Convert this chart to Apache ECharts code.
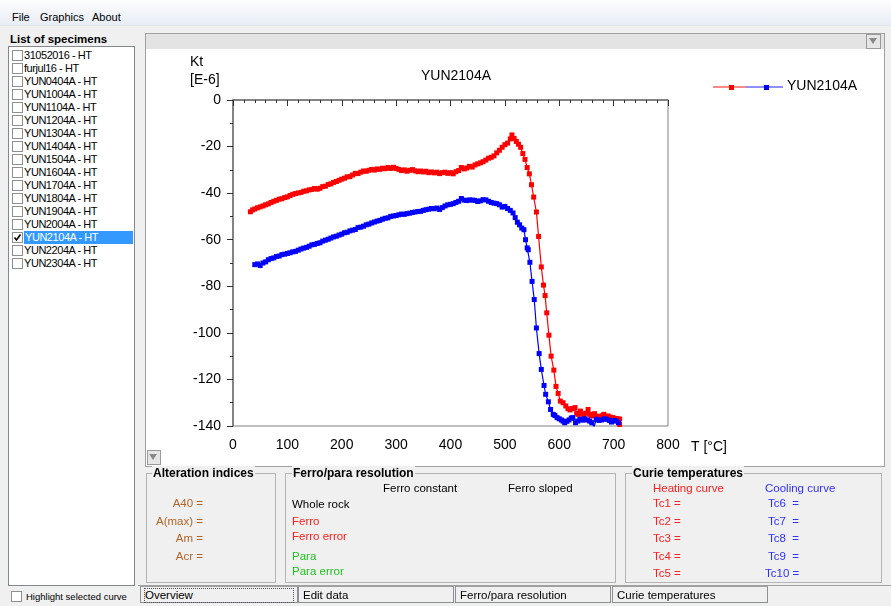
<!DOCTYPE html>
<html>
<head>
<meta charset="utf-8">
<script src="https://cdn.jsdelivr.net/npm/echarts@6/dist/echarts.min.js"></script>
<style>
  body { margin:0; width:891px; height:606px; background:#f0f0f0; position:relative; overflow:hidden;
         font-family:"Liberation Sans", Arial, sans-serif; }
  .a { position:absolute; white-space:nowrap; }
  .menu { left:0; top:0; width:891px; height:25px; background:linear-gradient(#fdfdfe,#e8edf5); border-bottom:1px solid #dfe3ea; }
  .mi { top:10px; font-size:11px; line-height:14px; color:#000; }
  .cb { width:9px; height:9px; border:1px solid #8e8f8f; background:#fff; }
  .li { left:24px; font-size:11px; line-height:13px; height:13px; letter-spacing:-0.45px; color:#000; }
  .grp { border:1px solid #b4b4b4; }
  .gt { font-size:12px; font-weight:bold; line-height:14px; background:#f0f0f0; padding:0 1px; }
  .t { font-size:11.5px; line-height:14px; }
  .tab { top:586px; height:17px; border:1px solid #8c8f95; border-top-color:#a0a0a0; background:#f0f0f0; font-size:11.5px; line-height:17px; padding-left:4px; box-sizing:border-box; }
</style>
</head>
<body>
<div class="a menu"></div>
<div class="a mi" style="left:12px">File</div>
<div class="a mi" style="left:40px">Graphics</div>
<div class="a mi" style="left:92px">About</div>

<div class="a" style="left:10px;top:32px;font-size:11.5px;font-weight:bold;line-height:14px;">List of specimens</div>
<div class="a" id="list" style="left:8px;top:46px;width:125px;height:538px;background:#fff;border:1px solid #828790;"></div>

<div class="a cb" style="left:11px;top:591px;"></div>
<div class="a" style="left:26px;top:591px;font-size:9.5px;line-height:11px;">Highlight selected curve</div>

<!-- chart panel -->
<div class="a" style="left:145px;top:33px;width:738px;height:432px;border:1px solid #a0a0a0;background:#fff;"></div>
<div class="a" style="left:146px;top:34px;width:738px;height:15px;background:#e3e3e3;"></div>
<div class="a" style="left:866px;top:34px;width:13px;height:13px;border:1px solid #9a9a9a;background:#e6e6e6;"></div>
<div class="a" style="left:869px;top:38px;width:0;height:0;border-left:4px solid transparent;border-right:4px solid transparent;border-top:6px solid #8a8a8a;"></div>
<div class="a" id="chart" style="left:147px;top:49px;width:736px;height:416px;"></div>
<div class="a" style="left:147px;top:450px;width:12px;height:13px;border:1px solid #9a9a9a;background:#e6e6e6;"></div>
<div class="a" style="left:149px;top:454px;width:0;height:0;border-left:4px solid transparent;border-right:4px solid transparent;border-top:6px solid #8a8a8a;"></div>

<!-- group boxes -->
<div class="a grp" style="left:146px;top:473px;width:128px;height:108px;"></div>
<div class="a gt" style="left:152px;top:466px;">Alteration indices</div>
<div class="a t" style="left:150px;width:53px;top:496px;text-align:right;color:#b0652a;">A40 =</div>
<div class="a t" style="left:140px;width:63px;top:514px;text-align:right;color:#b0652a;">A(max) =</div>
<div class="a t" style="left:150px;width:53px;top:531px;text-align:right;color:#b0652a;">Am =</div>
<div class="a t" style="left:150px;width:53px;top:549px;text-align:right;color:#b0652a;">Acr =</div>

<div class="a grp" style="left:285px;top:473px;width:329px;height:108px;"></div>
<div class="a gt" style="left:292px;top:466px;">Ferro/para resolution</div>
<div class="a t" style="left:383px;top:481px;">Ferro constant</div>
<div class="a t" style="left:508px;top:481px;">Ferro sloped</div>
<div class="a t" style="left:292px;top:497px;">Whole rock</div>
<div class="a t" style="left:292px;top:514px;color:#ff2020;">Ferro</div>
<div class="a t" style="left:292px;top:529px;color:#ff2020;">Ferro error</div>
<div class="a t" style="left:292px;top:549px;color:#22c022;">Para</div>
<div class="a t" style="left:292px;top:564px;color:#22c022;">Para error</div>

<div class="a grp" style="left:625px;top:473px;width:255px;height:108px;"></div>
<div class="a gt" style="left:632px;top:466px;">Curie temperatures</div>
<div class="a t" style="left:653px;top:481px;color:#ff2020;">Heating curve</div>
<div class="a t" style="left:765px;top:481px;color:#3030ff;">Cooling curve</div>
<div class="a t" style="left:653px;top:496px;color:#ff2020;">Tc1 =</div>
<div class="a t" style="left:653px;top:514px;color:#ff2020;">Tc2 =</div>
<div class="a t" style="left:653px;top:531px;color:#ff2020;">Tc3 =</div>
<div class="a t" style="left:653px;top:549px;color:#ff2020;">Tc4 =</div>
<div class="a t" style="left:653px;top:566px;color:#ff2020;">Tc5 =</div>
<div class="a t" style="left:768px;top:496px;color:#3030ff;">Tc6&nbsp; =</div>
<div class="a t" style="left:768px;top:514px;color:#3030ff;">Tc7&nbsp; =</div>
<div class="a t" style="left:768px;top:531px;color:#3030ff;">Tc8&nbsp; =</div>
<div class="a t" style="left:768px;top:549px;color:#3030ff;">Tc9&nbsp; =</div>
<div class="a t" style="left:765px;top:566px;color:#3030ff;">Tc10 =</div>

<!-- tabs -->
<div class="a" style="left:138px;top:585px;width:753px;height:1px;background:#a0a0a0;"></div>
<div class="a tab" style="left:140px;width:158px;"><span style="outline:1px dotted #555;outline-offset:0;display:inline-block;width:148px;line-height:13px;margin-top:1px;">Overview</span></div>
<div class="a tab" style="left:298px;width:156px;">Edit data</div>
<div class="a tab" style="left:455px;width:156px;">Ferro/para resolution</div>
<div class="a tab" style="left:612px;width:156px;">Curie temperatures</div>

<script>
const specimens = ['31052016 - HT','furjul16 - HT','YUN0404A - HT','YUN1004A - HT','YUN1104A - HT',
  'YUN1204A - HT','YUN1304A - HT','YUN1404A - HT','YUN1504A - HT','YUN1604A - HT','YUN1704A - HT',
  'YUN1804A - HT','YUN1904A - HT','YUN2004A - HT','YUN2104A - HT','YUN2204A - HT','YUN2304A - HT'];
const selected = 'YUN2104A - HT';

const title = 'YUN2104A';
const xTicks = { min: 0, max: 800, step: 100 };
const yTicks = { min: -140, max: 0, step: 20 };

// heating run [T °C, Kt E-6]
const heating = [
  [32,-48.0],[36,-47.2],[40,-46.8],[45,-46.3],[50,-45.9],[55,-45.5],[60,-45.0],[65,-44.6],[70,-44.0],
  [75,-43.5],[80,-43.1],[85,-42.6],[90,-42.4],[95,-41.9],[100,-41.6],[105,-41.0],[110,-40.5],[115,-40.2],
  [120,-39.9],[125,-39.7],[130,-39.2],[135,-39.0],[140,-38.6],[145,-38.4],[150,-38.0],[155,-38.3],
  [160,-37.9],[165,-37.2],[170,-37.0],[175,-36.3],[180,-36.0],[185,-35.4],[190,-35.0],[195,-34.5],
  [200,-34.0],[205,-33.6],[210,-33.0],[215,-32.9],[220,-32.2],[225,-31.5],[230,-31.6],[235,-31.0],
  [240,-30.5],[245,-30.6],[250,-30.2],[255,-29.8],[260,-30.1],[265,-29.6],[270,-29.8],[275,-29.3],
  [280,-29.5],[285,-29.0],[290,-29.4],[295,-28.9],[300,-29.4],[305,-29.8],[310,-30.3],[315,-30.0],
  [320,-30.6],[325,-30.2],[330,-29.9],[335,-30.4],[340,-30.8],[345,-30.5],[350,-30.9],[355,-30.6],
  [360,-31.2],[365,-30.9],[370,-31.3],[375,-31.0],[380,-31.6],[385,-31.2],[390,-31.0],[395,-31.5],
  [400,-31.2],[405,-31.7],[410,-30.8],[415,-30.3],[420,-29.0],[425,-29.6],[430,-29.2],[435,-28.5],
  [440,-28.8],[445,-27.9],[450,-27.4],[455,-27.0],[460,-26.5],[465,-25.8],[470,-25.0],[475,-24.6],
  [480,-24.0],[485,-22.7],[490,-21.6],[495,-20.3],[500,-19.2],[505,-18.5],[510,-16.7],[513,-15.0],
  [517,-16.5],[521,-17.8],[525,-19.0],[529,-20.3],[533,-23.0],[537,-25.5],[541,-29.0],[545,-31.7],
  [549,-36.4],[553,-41.7],[558,-48.1],[562,-58.6],[567,-71.7],[571,-79.5],[574,-84.0],[577,-91.4],
  [581,-101.0],[585,-110.0],[590,-116.0],[594,-123.0],[598,-126.0],[602,-129.3],[607,-130.0],
  [612,-131.4],[616,-132.6],[620,-133.1],[624,-132.5],[629,-132.1],[632,-134.5],[635,-135.0],
  [639,-133.6],[642,-134.8],[645,-135.4],[649,-134.5],[653,-132.9],[656,-135.0],[659,-135.7],
  [662,-135.2],[665,-134.7],[670,-135.8],[675,-136.4],[679,-135.6],[682,-135.0],[686,-135.9],
  [690,-135.7],[694,-136.2],[699,-136.4],[703,-136.8],[707,-136.9],[711,-137.0],[711,-139.3]
];

// cooling run
const cooling = [
  [40,-70.7],[45,-70.4],[50,-71.1],[55,-70.0],[60,-69.5],[65,-68.6],[70,-68.1],[75,-67.8],[80,-67.2],
  [85,-67.0],[90,-66.4],[95,-66.2],[100,-65.9],[105,-65.6],[110,-65.2],[115,-65.0],[120,-64.5],
  [125,-64.0],[130,-63.6],[135,-63.3],[140,-62.8],[145,-62.2],[150,-62.0],[155,-61.6],[160,-61.3],
  [165,-60.6],[170,-60.2],[175,-59.8],[180,-59.3],[185,-58.8],[190,-58.5],[195,-58.0],[200,-57.6],
  [205,-57.0],[210,-56.8],[215,-56.2],[220,-55.9],[225,-55.6],[230,-54.8],[235,-54.6],[240,-54.2],
  [245,-53.6],[250,-53.3],[255,-52.8],[260,-52.4],[265,-52.0],[270,-51.7],[275,-51.2],[280,-50.8],
  [285,-50.6],[290,-50.0],[295,-49.8],[300,-49.6],[305,-49.3],[310,-49.0],[315,-49.1],[320,-48.8],
  [325,-48.6],[330,-48.3],[335,-48.1],[340,-47.9],[345,-47.8],[350,-47.4],[355,-47.1],[360,-46.9],
  [365,-46.6],[370,-46.7],[375,-46.4],[380,-47.0],[385,-46.2],[390,-45.5],[395,-45.0],[400,-44.8],
  [405,-44.5],[410,-44.0],[415,-43.5],[420,-42.3],[425,-43.0],[430,-43.2],[435,-42.9],[440,-43.0],
  [445,-43.1],[450,-43.6],[455,-43.3],[460,-42.8],[465,-42.9],[470,-43.5],[475,-44.0],[480,-44.3],
  [485,-44.5],[490,-45.0],[495,-46.0],[500,-45.7],[505,-46.6],[510,-47.4],[515,-48.5],[519,-50.5],
  [523,-52.5],[527,-53.6],[531,-55.0],[535,-55.7],[538,-60.0],[541,-63.5],[543,-64.3],[546,-69.7],
  [550,-77.9],[554,-85.7],[558,-97.9],[563,-108.9],[567,-115.7],[572,-122.6],[575,-126.4],
  [580,-129.6],[584,-132.9],[589,-135.0],[592,-135.5],[596,-136.4],[600,-136.9],[604,-137.4],
  [607,-137.9],[610,-138.6],[614,-138.0],[618,-137.4],[622,-136.6],[625,-136.4],[630,-138.6],
  [634,-137.9],[638,-137.1],[643,-137.5],[647,-136.9],[652,-137.4],[656,-137.9],[660,-138.6],
  [664,-140.5],[668,-137.1],[673,-137.6],[678,-137.4],[683,-136.9],[687,-137.1],[692,-137.6],
  [696,-138.3],[701,-137.6],[705,-137.9],[709,-138.6]
];

// specimen list
const list = document.getElementById('list');
specimens.forEach((s, i) => {
  const y = i * 13;
  const cb = document.createElement('div');
  cb.className = 'a cb';
  cb.style.left = '3px'; cb.style.top = (y + 3) + 'px';
  if (s === selected) {
    cb.innerHTML = '<svg width="9" height="9" style="position:absolute;left:0;top:0"><path d="M1.5 4.5 L3.5 7 L7.5 1.5" stroke="#000" stroke-width="1.6" fill="none"/></svg>';
  }
  list.appendChild(cb);
  const it = document.createElement('div');
  it.className = 'a li';
  it.style.top = (y + 2) + 'px';
  it.style.left = '15px';
  it.textContent = s;
  if (s === selected) {
    it.style.background = '#3399ff'; it.style.color = '#fff';
    it.style.width = '108px'; it.style.paddingLeft = '1px';
  }
  list.appendChild(it);
});

const chart = echarts.init(document.getElementById('chart'));
const font = '"Liberation Sans", Arial, sans-serif';
const axisCommon = {
  type: 'value',
  axisLine: { show: true, lineStyle: { color: '#707070', width: 1.5 } },
  axisTick: { show: true, length: 6, inside: false, lineStyle: { color: '#333' } },
  minorTick: { show: true, length: 3, lineStyle: { color: '#333' } },
  splitLine: { show: false },
  axisLabel: { color: '#000', fontSize: 14, fontFamily: font, margin: 12 }
};

chart.setOption({
  animation: false,
  title: {
    text: title, left: 304, top: 15, textAlign: 'center',
    textStyle: { fontSize: 14, fontWeight: 'normal', color: '#000', fontFamily: font }
  },
  grid: { left: 86, top: 51, width: 435, height: 326, show: true, borderColor: '#808080', borderWidth: 1 },
  xAxis: Object.assign({}, axisCommon, {
    min: xTicks.min, max: xTicks.max, interval: xTicks.step,
    minorTick: Object.assign({}, axisCommon.minorTick, { splitNumber: 5 })
  }),
  yAxis: Object.assign({}, axisCommon, {
    min: yTicks.min, max: yTicks.max, interval: yTicks.step,
    minorTick: Object.assign({}, axisCommon.minorTick, { splitNumber: 2 })
  }),
  graphic: [
    { type: 'text', left: 43, top: 4, style: { text: 'Kt\n[E-6]', fontSize: 14, lineHeight: 18, fill: '#000', font: '14px ' + font } },
    { type: 'text', left: 544, top: 391, style: { text: 'T [°C]', fill: '#000', font: '14px ' + font } },
    // legend
    { type: 'line', shape: { x1: 566, y1: 38, x2: 599, y2: 38 }, style: { stroke: '#ff6060', lineWidth: 1.5 } },
    { type: 'rect', shape: { x: 582, y: 36, width: 5, height: 5 }, style: { fill: '#ff0000' } },
    { type: 'line', shape: { x1: 599, y1: 38, x2: 636, y2: 38 }, style: { stroke: '#6a6aff', lineWidth: 1.5 } },
    { type: 'rect', shape: { x: 617, y: 36, width: 5, height: 5 }, style: { fill: '#0000ff' } },
    { type: 'text', left: 640, top: 30, style: { text: title, fill: '#000', font: '14px ' + font } }
  ],
  series: [
    {
      name: 'heating', type: 'line', data: heating, symbol: 'rect', symbolSize: 5,
      lineStyle: { color: '#ff0000', width: 1.2 }, itemStyle: { color: '#ff0000' }, clip: true
    },
    {
      name: 'cooling', type: 'line', data: cooling, symbol: 'rect', symbolSize: 5,
      lineStyle: { color: '#0000ff', width: 1.2 }, itemStyle: { color: '#0000ff' }, clip: true
    }
  ]
});
</script>
</body>
</html>
